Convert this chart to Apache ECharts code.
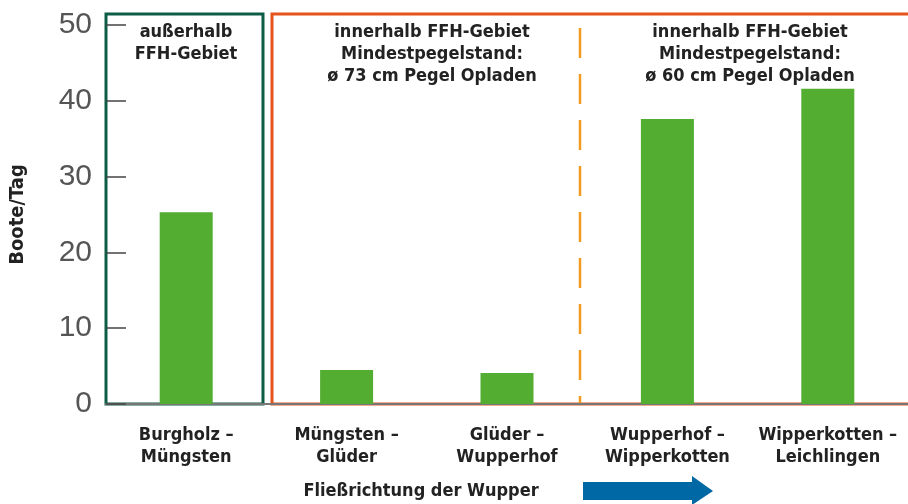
<!DOCTYPE html>
<html lang="de">
  <head>
    <meta charset="UTF-8" />
    <title>Boote pro Tag</title>
    <script src="https://cdn.jsdelivr.net/npm/echarts@6.0.0/dist/echarts.min.js"></script>
  </head>
  <body style="margin: 0">
    <div id="main" style="width: 908px; height: 504px"></div>
    <script type="text/javascript">
      // data
      const categories = [
        "Burgholz –\nMüngsten",
        "Müngsten –\nGlüder",
        "Glüder –\nWupperhof",
        "Wupperhof –\nWipperkotten",
        "Wipperkotten –\nLeichlingen",
      ];
      const boats = [25.3, 4.5, 4.1, 37.6, 41.6];
      const yTicks = [0, 10, 20, 30, 40, 50];

      const font = "'Liberation Sans Narrow', 'DejaVu Sans Condensed', Roboto, sans-serif";
      const boldText = { fontFamily: font, fontWeight: "bold", fontSize: 18, fill: "#222", textAlign: "center", lineHeight: 22 };

      let myChart = echarts.init(document.getElementById("main"));

      let options = {
        animation: false,
        grid: { left: 106, right: -8, top: 25, bottom: 100 },
        xAxis: {
          type: "category",
          data: categories,
          axisLine: { lineStyle: { color: "#777", width: 2 } },
          axisTick: { show: false },
          axisLabel: { interval: 0, fontFamily: font, fontWeight: "bold", fontSize: 18, color: "#222", lineHeight: 22, margin: 20 },
        },
        yAxis: {
          type: "value",
          min: yTicks[0],
          max: yTicks[yTicks.length - 1],
          interval: 10,
          name: "Boote/Tag",
          nameLocation: "middle",
          nameGap: 78,
          nameTextStyle: { fontFamily: font, fontWeight: "bold", fontSize: 20, color: "#222" },
          axisLine: { show: false },
          axisTick: { show: true, inside: true, length: 20, lineStyle: { color: "#444", width: 1.5 } },
          splitLine: { show: false },
          axisLabel: { fontFamily: "'Liberation Sans Narrow', sans-serif", fontSize: 30, color: "#555", margin: 14 },
        },
        series: [
          {
            type: "bar",
            data: boats,
            barWidth: 53,
            itemStyle: { color: "#52ad31" },
          },
        ],
        graphic: [
          // boxes
          { type: "rect", shape: { x: 106, y: 14, width: 157, height: 390 }, style: { fill: "none", stroke: "#0d5c44", lineWidth: 3 } },
          { type: "rect", shape: { x: 272, y: 14, width: 650, height: 390 }, style: { fill: "none", stroke: "#e5541b", lineWidth: 3 } },
          { type: "line", shape: { x1: 580, y1: 28, x2: 580, y2: 403 }, style: { stroke: "#f29a1f", lineWidth: 2.5, lineDash: [30, 16] } },
          // annotations
          { type: "text", x: 186, y: 21, style: Object.assign({ text: "außerhalb\nFFH-Gebiet" }, boldText) },
          { type: "text", x: 432, y: 21, style: Object.assign({ text: "innerhalb FFH-Gebiet\nMindestpegelstand:\nø 73 cm Pegel Opladen" }, boldText) },
          { type: "text", x: 750, y: 21, style: Object.assign({ text: "innerhalb FFH-Gebiet\nMindestpegelstand:\nø 60 cm Pegel Opladen" }, boldText) },
          // flow direction
          { type: "text", x: 421, y: 480, style: Object.assign({ text: "Fließrichtung der Wupper" }, boldText) },
          {
            type: "polygon",
            shape: { points: [[583, 482], [692, 482], [692, 476], [713, 491], [692, 505], [692, 500], [583, 500]] },
            style: { fill: "#0068a5" },
          },
        ],
      };

      myChart.setOption(options);
    </script>
  </body>
</html>
